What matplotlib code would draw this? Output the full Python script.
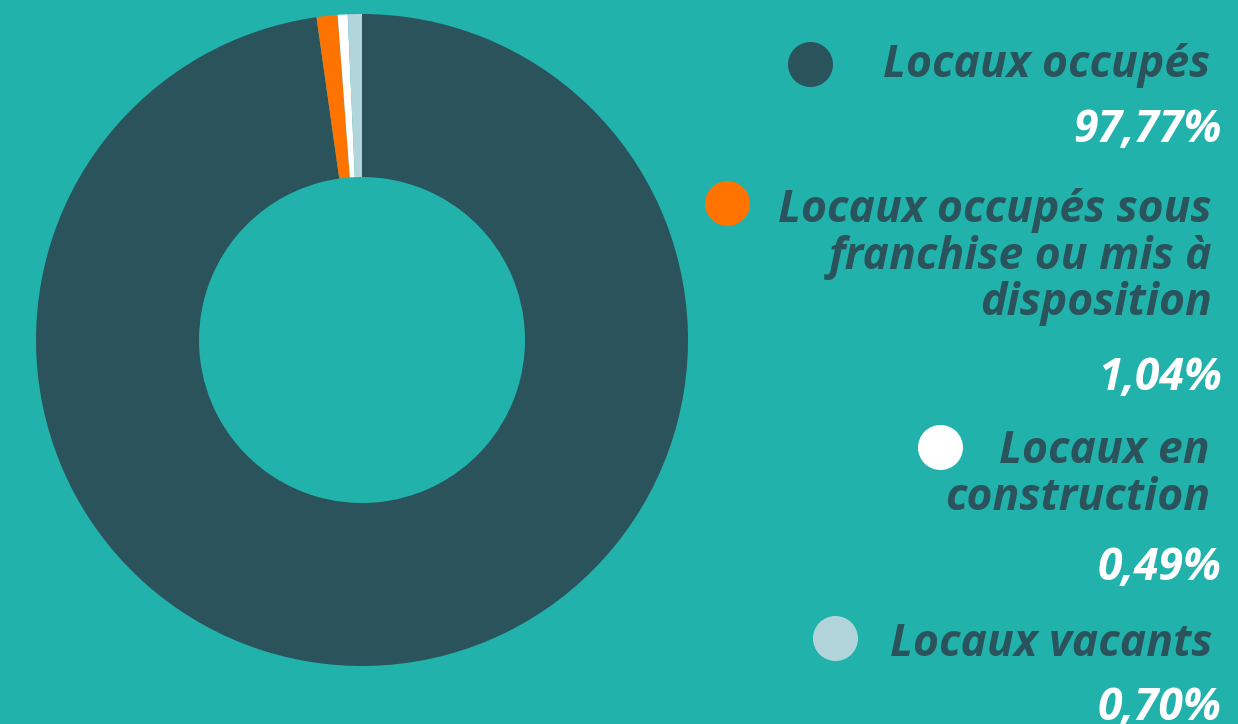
import numpy as np
import matplotlib
matplotlib.use("Agg")
import matplotlib.pyplot as plt

labels = ["Locaux occupés",
          "Locaux occupés sous\nfranchise ou mis à\ndisposition",
          "Locaux en\nconstruction",
          "Locaux vacants"]
values = [97.77, 1.04, 0.49, 0.70]
colors = ["#2B535B", "#FF7300", "#FFFFFF", "#B2D5DB"]

bg = "#22B2AC"
dark = "#2B535B"

fig = plt.figure(figsize=(12.38, 7.24), dpi=100, facecolor=bg)

# donut
W, H = 1238, 724
cx, cy, r = 362, 340, 326
ax = fig.add_axes([(cx - r) / W, (H - cy - r) / H, 2 * r / W, 2 * r / H])
ax.pie(values, colors=colors, startangle=90, counterclock=False,
       wedgeprops=dict(width=0.5, linewidth=0), radius=1)
ax.set_xlim(-1, 1)
ax.set_ylim(-1, 1)
ax.set_aspect("equal")
ax.axis("off")

# legend drawn in pixel space
lax = fig.add_axes([0, 0, 1, 1])
lax.set_xlim(0, W)
lax.set_ylim(H, 0)
lax.axis("off")
lax.patch.set_alpha(0)

label_y = [66, 257, 475, 644]
label_x = [1210, 1212, 1210, 1212]
dot_x = [810, 727, 940, 835]
dot_y = [64, 203, 447, 638]
pct_y = [131, 378, 569, 709]

font = dict(family=["Open Sans", "DejaVu Sans"], weight="bold", style="italic")
for i, lab in enumerate(labels):
    lax.text(label_x[i], label_y[i], lab, ha="right", va="center",
             color=dark, fontsize=32, linespacing=1.05, **font)
    lax.scatter([dot_x[i]], [dot_y[i]], s=1050, color=colors[i], lw=0)
    pct = f"{values[i]:.2f}".replace(".", ",") + "%"
    lax.text(1222, pct_y[i], pct, ha="right", va="center",
             color="white", fontsize=32, **font)

fig.savefig("out.png", dpi=100, facecolor=bg)
